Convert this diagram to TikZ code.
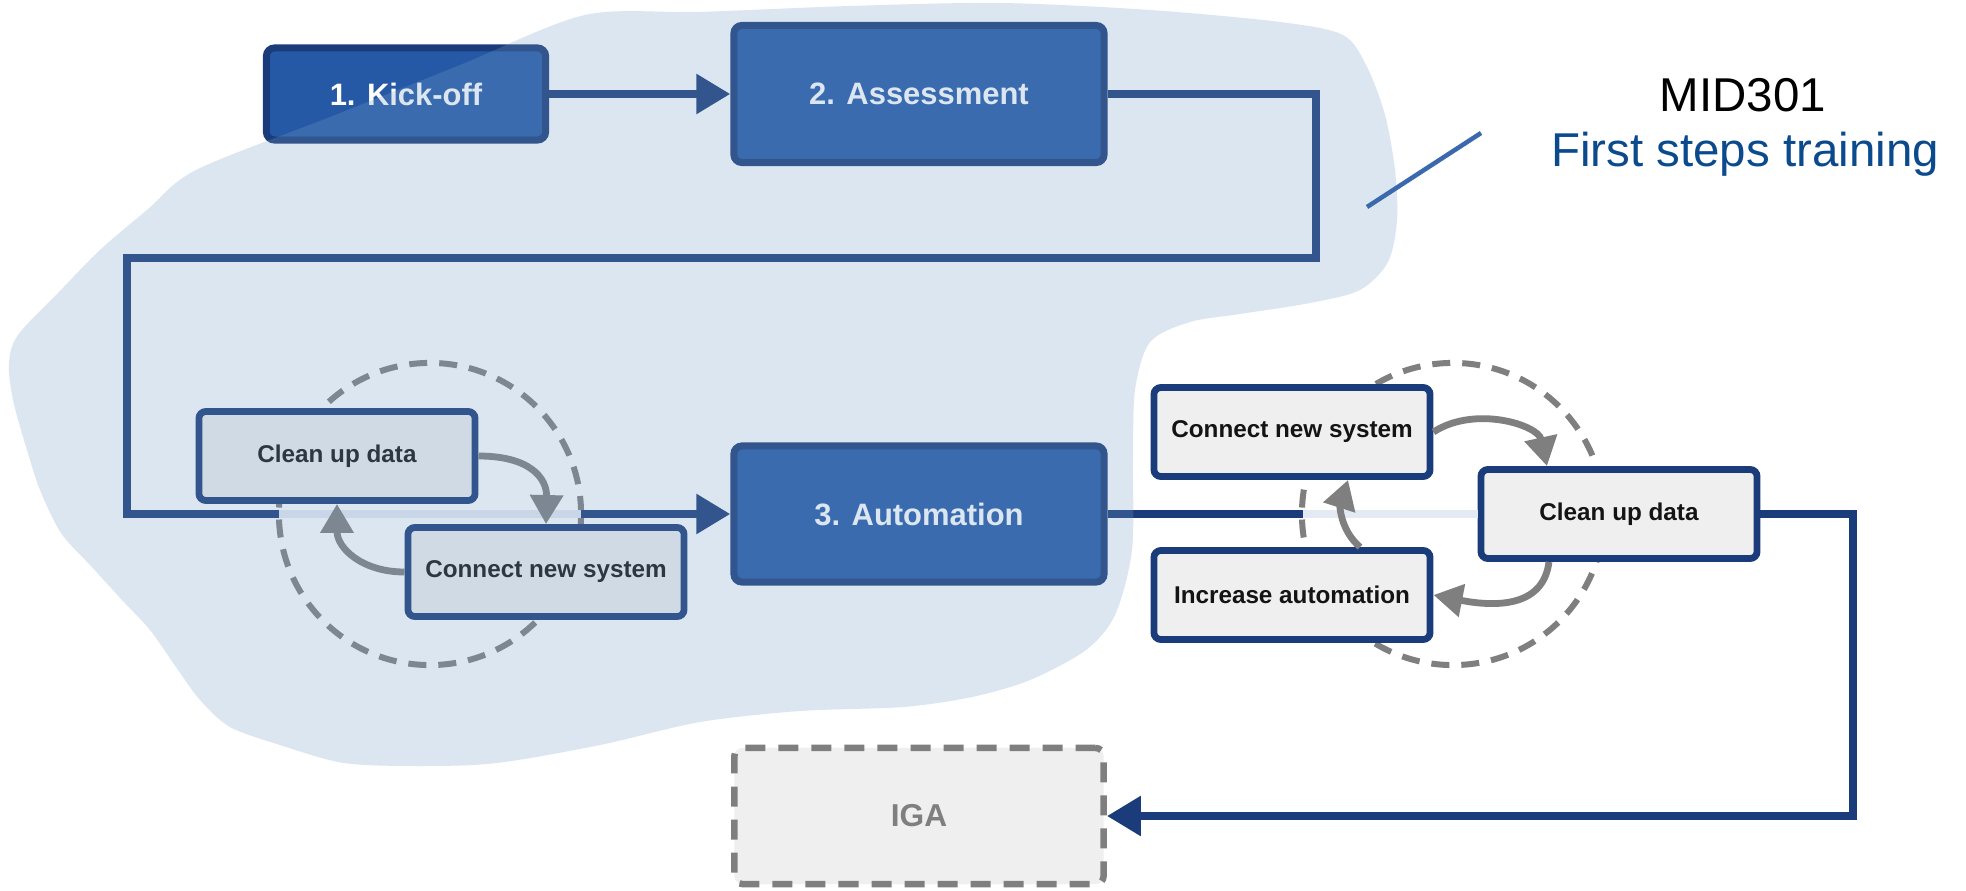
\documentclass[tikz,border=0pt]{standalone}
\usepackage{fontspec}
\setmainfont{Liberation Sans}
\usetikzlibrary{arrows.meta}
\definecolor{bigblue}{HTML}{2559A5}
\definecolor{boxnavy}{HTML}{1B3C7A}
\definecolor{palelink}{HTML}{E4EAF3}
\definecolor{loopgray}{HTML}{7F7F7F}
\definecolor{boxgray}{HTML}{EFEFEF}
\definecolor{blobblue}{HTML}{789FC9}
\definecolor{tagblue}{HTML}{3A6AAD}
\definecolor{titleblue}{HTML}{0B4A8D}
\begin{document}
\begin{tikzpicture}[x=0.01cm, y=-0.01cm,
	bigbox/.style={draw=boxnavy, line width=0.07cm, fill=bigblue, rounded corners=0.08cm, text=white, inner sep=0pt, font=\bfseries\fontsize{8.8}{10}\selectfont},
	smallbox/.style={draw=boxnavy, line width=0.068cm, fill=boxgray, rounded corners=0.07cm, text=black!92, inner sep=0pt, minimum width=2.76cm, minimum height=0.89cm, font=\bfseries\fontsize{6.9}{8}\selectfont},
	igabox/.style={draw=loopgray, line width=0.065cm, dash pattern=on 0.2cm off 0.13cm, fill=boxgray, rounded corners=0.08cm, text=loopgray, inner sep=0pt, font=\bfseries\fontsize{9}{10}\selectfont},
	mainline/.style={draw=boxnavy, line width=0.085cm},
	mainarrow/.style={mainline, -{Triangle[length=0.34cm, width=0.38cm]}},
	paleline/.style={draw=palelink, line width=0.085cm},
	loopdash/.style={draw=loopgray, line width=0.06cm, dash pattern=on 0.18cm off 0.12cm},
	looparrow/.style={draw=loopgray, line width=0.068cm, -{Triangle[length=0.29cm, width=0.32cm]}}]
	\useasboundingbox[fill=white] (0,0) rectangle (1966,891);

	\coordinate (bendR) at (1316,258);
	\coordinate (bendL) at (127,258);
	\coordinate (ringLin) at (279,514);
	\coordinate (ringLout) at (581,514);
	\coordinate (ringRin) at (1303,514);
	\coordinate (bendIGA) at (1853,650);

	\draw[loopdash] (430,514) circle[radius=1.51cm];
	\draw[loopdash] (1453,514) circle[radius=1.51cm];

	\node[bigbox, minimum width=2.79cm, minimum height=0.92cm] (kickoff) at (406,94) {1. Kick-off};
	\node[bigbox, minimum width=3.7cm, minimum height=1.37cm] (assess) at (919,94) {2. Assessment};
	\node[bigbox, minimum width=3.7cm, minimum height=1.36cm] (autom) at (919,514) {3. Automation};
	\node[smallbox] (cleanL) at (337,456) {Clean up data};
	\node[smallbox] (connL) at (546,572) {Connect new system};
	\node[smallbox] (connR) at (1292,432) {Connect new system};
	\node[smallbox] (cleanR) at (1619,514) {Clean up data};
	\node[smallbox] (incr) at (1292,595) {Increase automation};
	\node[igabox, minimum width=3.69cm, minimum height=1.36cm] (iga) at (919,816) {IGA};

	\draw[mainarrow] (kickoff.east) -- (assess.west);
	\draw[mainline] (assess.east) -| (bendR) -- (bendL) |- (ringLin);
	\draw[paleline] (ringLin) -- (ringLout);
	\draw[mainarrow] (ringLout) -- (autom.west);
	\draw[mainline] (autom.east) -- (ringRin);
	\draw[paleline] (ringRin) -- (cleanR.west);
	\draw[mainarrow] (cleanR.east) -| (bendIGA) |- (iga.east);

	\draw[looparrow] (cleanL.east) .. controls (530,456) and (547,478) .. (connL.north);
	\draw[looparrow] (connL.west) .. controls (362,572) and (337,548) .. (cleanL.south);
	\draw[looparrow] (connR.east) .. controls (1475,405) and (1538,425) .. ([xshift=-0.72cm]cleanR.north);
	\draw[looparrow] ([xshift=-0.7cm]cleanR.south) .. controls (1543,610) and (1490,606) .. (incr.east);
	\draw[looparrow] ([xshift=0.68cm]incr.north) .. controls (1340,530) and (1340,505) .. ([xshift=0.56cm]connR.south);

	\fill[blobblue, opacity=0.26] plot[smooth cycle, tension=0.5] coordinates {(196,170) (330,117) (460,65) (585,15) (700,12) (850,6) (1000,3) (1150,10) (1280,22) (1343,35) (1367,67) (1385,115) (1395,170) (1397,220) (1388,262) (1360,290) (1310,303) (1240,314) (1190,322) (1150,342) (1135,390) (1133,460) (1132,550) (1115,615) (1086,650) (1030,680) (972,697) (903,707) (800,711) (700,722) (600,745) (497,763) (420,766) (344,763) (280,745) (230,727) (200,700) (176,667) (150,630) (122,600) (90,565) (61,533) (40,490) (27,450) (13,400) (9,363) (18,335) (58,293) (100,250) (147,210)};

	\coordinate (tagA) at (1367,207);
	\coordinate (tagB) at (1481,133);
	\draw[tagblue, line width=0.045cm] (tagA) -- (tagB);
	\node[anchor=base, inner sep=0pt, font=\fontsize{13.5}{16}\selectfont] (mid) at (1743,112) {MID301};
	\node[anchor=base, inner sep=0pt, text=titleblue, font=\fontsize{13.5}{16}\selectfont] (training) at (1745,167) {First steps training};
\end{tikzpicture}
\end{document}
